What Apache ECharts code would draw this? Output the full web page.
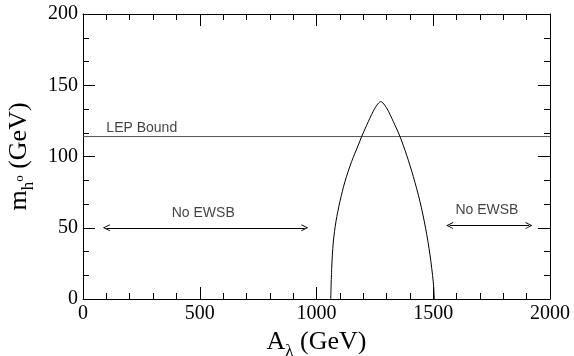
<!DOCTYPE html>
<html>
<head>
<meta charset="utf-8">
<script src="https://cdn.jsdelivr.net/npm/echarts@6/dist/echarts.min.js"></script>
<style>
  html, body { margin: 0; padding: 0; background: #fff; }
  #chart { width: 574px; height: 356px; }
</style>
</head>
<body>
<div id="chart"></div>
<script>
// curve m_h0 vs A_lambda
var curveX = [1061, 1065, 1072, 1083.5, 1100.5, 1122, 1150.5, 1179, 1193.5, 1222, 1250.5, 1275, 1300.5, 1329, 1357.5, 1386, 1414.5, 1443, 1467.5, 1486, 1500, 1504.5];
var curveY = [0, 21.5, 40, 54.5, 68.5, 82.5, 96.5, 108, 114, 124.5, 134, 138.5, 134, 124.5, 114, 101, 86, 68.5, 49.5, 31, 12, 0];

var lepBound = 114;
var leftArrowX = [100, 950], leftArrowY = 50;
var rightArrowX = [1570, 1910], rightArrowY = 51.5;

var textLabels = [
  { name: 'LEP Bound', x: 100, y: 120, align: 'left' },
  { name: 'No EWSB', x: 515, y: 60.5, align: 'center' },
  { name: 'No EWSB', x: 1730, y: 62.5, align: 'center' }
];

var serif = "'Liberation Serif', 'Times New Roman', serif";
var sans = "'Liberation Sans', Arial, sans-serif";

// open chevron, pointing up (markLine rotates it along the line)
var chevron = 'path://M0,10 L5,0 L10,10 L8.6,10 L5,2.8 L1.4,10 Z';

var curve = curveX.map(function (x, i) { return [x, curveY[i]]; });

function mirrorAxis(pos, extra) {
  var base = {
    type: 'value',
    position: pos,
    axisLine: { show: true, onZero: false, lineStyle: { color: '#000', width: 1 } },
    axisTick: { show: true, inside: true, length: 12, lineStyle: { color: '#000' } },
    minorTick: { show: true, length: 6, lineStyle: { color: '#000' } },
    splitLine: { show: false },
    minorSplitLine: { show: false },
    axisLabel: { show: false }
  };
  return Object.assign(base, extra);
}

var chart = echarts.init(document.getElementById('chart'));
chart.setOption({
  backgroundColor: '#fff',
  animation: false,
  grid: { left: 83, right: 24, top: 14, bottom: 57, containLabel: false, outerBoundsMode: 'none' },
  xAxis: [
    mirrorAxis('bottom', {
      min: 0, max: 2000, interval: 500,
      minorTick: { show: true, splitNumber: 5, length: 6, lineStyle: { color: '#000' } },
      axisLabel: { show: true, color: '#000', fontFamily: serif, fontSize: 20, margin: 5,
        formatter: function (v) { return String(v); } },
      name: '{a|A}{l|λ}{g| (GeV)}',
      nameLocation: 'middle',
      nameGap: 21,
      nameTextStyle: {
        rich: {
          a: { fontFamily: serif, fontSize: 26, color: '#000', lineHeight: 36, verticalAlign: 'middle' },
          l: { fontFamily: serif, fontSize: 17, color: '#000', lineHeight: 17, verticalAlign: 'bottom' },
          g: { fontFamily: serif, fontSize: 26, color: '#000', lineHeight: 36, verticalAlign: 'middle' }
        }
      }
    }),
    mirrorAxis('top', {
      min: 0, max: 2000, interval: 500,
      minorTick: { show: true, splitNumber: 5, length: 6, lineStyle: { color: '#000' } }
    })
  ],
  yAxis: [
    mirrorAxis('left', {
      min: 0, max: 200, interval: 50,
      minorTick: { show: true, splitNumber: 3, length: 6, lineStyle: { color: '#000' } },
      axisLabel: { show: true, color: '#000', fontFamily: serif, fontSize: 20, margin: 5 },
      name: '{m|m}{h|h}{o|o}{g| (GeV)}',
      nameLocation: 'middle',
      nameRotate: 90,
      nameGap: 42,
      nameTextStyle: {
        rich: {
          m: { fontFamily: serif, fontSize: 26, color: '#000', lineHeight: 36, verticalAlign: 'middle' },
          h: { fontFamily: serif, fontSize: 17, color: '#000', lineHeight: 17, verticalAlign: 'bottom' },
          o: { fontFamily: serif, fontSize: 13, color: '#000', lineHeight: 13, verticalAlign: 'middle' },
          g: { fontFamily: serif, fontSize: 26, color: '#000', lineHeight: 36, verticalAlign: 'middle' }
        }
      }
    }),
    mirrorAxis('right', {
      min: 0, max: 200, interval: 50,
      minorTick: { show: true, splitNumber: 3, length: 6, lineStyle: { color: '#000' } }
    })
  ],
  series: [
    {
      type: 'line',
      data: curve,
      smooth: 0.3,
      showSymbol: false,
      lineStyle: { color: '#000', width: 1 },
      z: 3
    },
    {
      type: 'line',
      data: [[0, lepBound], [2000, lepBound]],
      showSymbol: false,
      lineStyle: { color: '#555', width: 1 },
      z: 2
    },
    {
      type: 'line',
      data: [],
      markLine: {
        silent: true,
        symbol: [chevron, chevron],
        symbolSize: [7, 7],
        label: { show: false },
        lineStyle: { color: '#000', width: 1, type: 'solid' },
        data: [
          [{ coord: [leftArrowX[0], leftArrowY] }, { coord: [leftArrowX[1], leftArrowY] }],
          [{ coord: [rightArrowX[0], rightArrowY] }, { coord: [rightArrowX[1], rightArrowY] }]
        ]
      }
    },
    {
      type: 'scatter',
      symbolSize: 0,
      data: textLabels.map(function (t) {
        return {
          value: [t.x, t.y],
          label: {
            show: true,
            position: 'inside',
            formatter: t.name,
            align: t.align,
            verticalAlign: 'middle',
            color: '#111',
            fontFamily: sans,
            fontSize: 14
          }
        };
      }),
      silent: true
    }
  ]
});
</script>
</body>
</html>
